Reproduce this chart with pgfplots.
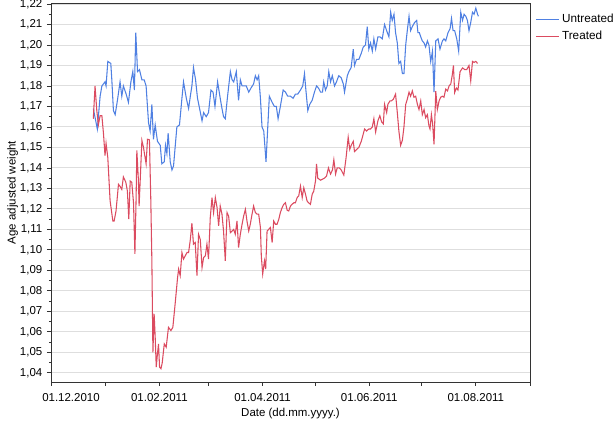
\documentclass[border=0pt]{standalone}
\usepackage{fontspec}
\setmainfont{Liberation Sans}
\usepackage{pgfplots}
\pgfplotsset{compat=1.18}
\definecolor{untr}{HTML}{4F80E2}
\definecolor{trt}{HTML}{DB4B60}
\definecolor{gridc}{HTML}{DEDEDE}
\begin{document}
\begin{tikzpicture}
\begin{axis}[
  name=ax,
  scale only axis, width=359.25pt, height=284.25pt,
  xmin=0, xmax=274, ymin=1.0355, ymax=1.2205,
  xtick={0,31,62,90,121,151,182,212,243,274},
  xticklabels={\hspace*{30pt}01.12.2010,,01.02.2011,,01.04.2011,,01.06.2011,,01.08.2011,},
  ytick={1.04,1.05,...,1.225},
  minor y tick num=1,
  tick align=outside, xtick pos=bottom, ytick pos=left,
  major tick length=3pt, minor tick length=1.6pt,
  tick style={black!80, line width=0.6pt},
  axis line style={black!80, line width=0.7pt},
  ymajorgrids, grid style={gridc, line width=0.7pt},
  yticklabel style={/pgf/number format/.cd, fixed, fixed zerofill, precision=2, use comma, assume math mode=true},
  xticklabel style={yshift=-2pt},
  ticklabel style={font=\fontsize{8.6}{10}\selectfont},
  label style={font=\fontsize{8.6}{10}\selectfont},
  xlabel={Date (dd.mm.yyyy.)},
  ylabel={Age adjusted weight},
  xlabel style={at={(axis description cs:0.5,0)}, anchor=center, yshift=-23.5pt},
  ylabel style={at={(axis description cs:-0.08,0.5)}, anchor=center, rotate=0},
  legend style={at={(axis description cs:1,1)}, anchor=north west, xshift=1pt, yshift=-4pt,
    draw=none, fill=none, font=\fontsize{8.8}{10}\selectfont, row sep=1pt},
  legend cell align=left,
]
\addplot[untr, line width=0.8pt] coordinates {
(24.2,1.169)(26.5,1.159)(28.1,1.175)(29.1,1.180)(30.9,1.182)(31.5,1.180)(32.5,1.192)(34.2,1.191)(34.8,1.183)(35.7,1.168)
(36.7,1.166)(38.0,1.173)(39.5,1.182)(40.5,1.175)(41.4,1.180)(43.0,1.176)(44.3,1.172)(45.7,1.182)(46.8,1.187)(47.7,1.178)
(48.5,1.206)(49.5,1.187)(50.6,1.188)(52.0,1.183)(53.3,1.183)(54.4,1.180)(55.8,1.162)(56.7,1.158)(57.7,1.171)(58.6,1.154)
(59.6,1.161)(60.9,1.153)(62.5,1.151)(63.4,1.142)(64.8,1.143)(65.5,1.151)(66.3,1.147)(67.0,1.157)(68.2,1.143)(69.2,1.139)
(70.1,1.141)(71.1,1.151)(72.0,1.160)(73.5,1.161)(74.9,1.174)(75.8,1.182)(77.4,1.174)(78.7,1.169)(79.7,1.175)(80.6,1.180)
(81.5,1.189)(82.7,1.183)(83.8,1.174)(85.0,1.169)(86.4,1.163)(87.3,1.167)(88.8,1.165)(90.1,1.167)(91.5,1.178)(92.7,1.177)
(93.8,1.170)(95.3,1.182)(96.8,1.174)(97.8,1.169)(98.7,1.165)(99.7,1.164)(101.0,1.175)(102.6,1.187)(103.6,1.183)(104.5,1.182)
(106.0,1.187)(107.3,1.173)(108.3,1.183)(109.3,1.180)(110.2,1.180)(111.7,1.180)(113.1,1.177)(114.4,1.179)(115.9,1.181)(116.9,1.185)
(117.9,1.183)(118.8,1.185)(119.8,1.174)(120.7,1.160)(121.7,1.158)(123.0,1.143)(124.0,1.160)(124.9,1.175)(126.5,1.172)(127.8,1.170)
(128.9,1.170)(129.9,1.164)(131.2,1.170)(132.8,1.178)(134.1,1.177)(135.4,1.175)(137.0,1.175)(138.5,1.174)(139.8,1.176)(141.1,1.176)
(142.7,1.178)(144.0,1.180)(145.0,1.186)(145.7,1.179)(146.9,1.168)(148.0,1.171)(149.4,1.173)(150.7,1.177)(151.9,1.180)(153.0,1.179)
(154.2,1.177)(155.3,1.177)(156.0,1.182)(157.0,1.178)(158.0,1.180)(158.9,1.187)(159.9,1.182)(160.9,1.185)(162.2,1.180)(163.3,1.182)
(164.6,1.185)(166.0,1.184)(167.2,1.181)(167.9,1.177)(169.5,1.185)(170.4,1.187)(171.7,1.189)(172.9,1.198)(173.6,1.190)(174.8,1.193)
(176.1,1.193)(177.5,1.196)(178.6,1.199)(179.9,1.200)(180.9,1.209)(181.8,1.198)(182.8,1.201)(183.8,1.197)(184.7,1.203)(185.7,1.198)
(187.0,1.204)(188.1,1.204)(189.5,1.203)(190.8,1.210)(192.4,1.206)(193.3,1.204)(194.3,1.216)(195.2,1.212)(196.2,1.215)(197.1,1.206)
(198.1,1.201)(199.0,1.191)(200.0,1.192)(201.0,1.186)(201.9,1.186)(202.9,1.200)(203.8,1.207)(204.8,1.214)(205.7,1.207)(206.7,1.209)
(208.0,1.211)(209.2,1.212)(209.9,1.206)(210.7,1.206)(211.5,1.204)(212.4,1.202)(213.4,1.201)(214.3,1.199)(215.3,1.202)(216.2,1.200)
(217.2,1.192)(218.2,1.197)(219.1,1.177)(220.1,1.202)(221.4,1.203)(222.5,1.198)(223.9,1.202)(224.8,1.203)(225.8,1.202)(227.1,1.206)
(228.3,1.208)(229.1,1.213)(230.0,1.207)(230.9,1.207)(232.1,1.203)(233.2,1.197)(234.4,1.216)(235.4,1.212)(236.3,1.215)(237.3,1.214)
(238.2,1.212)(239.1,1.207)(240.1,1.211)(241.1,1.216)(242.0,1.215)(243.0,1.218)(244.0,1.215)(244.5,1.214)
};
\addlegendentry{Untreated}
\addplot[trt, line width=0.8pt] coordinates {
(24.2,1.164)(25.2,1.180)(26.2,1.168)(27.1,1.161)(28.1,1.1655)(29.1,1.1655)(30.0,1.157)(30.9,1.146)(31.5,1.152)(32.5,1.145)
(33.8,1.124)(35.4,1.114)(36.1,1.114)(37.2,1.119)(38.6,1.132)(39.5,1.131)(40.5,1.1295)(41.4,1.1356)(42.8,1.133)(43.7,1.1287)
(44.5,1.115)(45.3,1.1336)(46.2,1.133)(47.2,1.123)(48.0,1.098)(48.7,1.126)(49.1,1.1485)(50.0,1.134)(50.4,1.1214)(52.0,1.1534)
(52.9,1.150)(54.4,1.142)(55.2,1.154)(56.3,1.1537)(57.1,1.124)(57.7,1.0947)(58.3,1.050)(59.0,1.0687)(59.6,1.0574)(60.2,1.0428)
(60.9,1.0493)(61.5,1.0541)(62.1,1.0428)(62.9,1.042)(63.6,1.0447)(64.8,1.0541)(65.9,1.0525)(67.2,1.0622)(68.6,1.0606)(69.7,1.0622)
(71.1,1.0744)(72.4,1.0865)(73.0,1.0906)(73.9,1.0874)(74.9,1.0987)(75.8,1.0955)(76.8,1.0971)(77.8,1.0987)(78.7,1.0987)(79.7,1.105)
(80.6,1.113)(81.5,1.1028)(82.5,1.1036)(83.5,1.0874)(84.4,1.1076)(85.4,1.105)(86.4,1.0914)(87.3,1.0963)(88.3,1.0971)(89.2,1.1028)
(90.1,1.0955)(91.1,1.1157)(92.1,1.1255)(93.0,1.1182)(94.0,1.1255)(95.0,1.1206)(95.9,1.1117)(96.8,1.1214)(97.8,1.1174)(98.7,1.1092)
(99.7,1.0946)(100.7,1.1182)(101.6,1.1165)(102.6,1.1084)(103.6,1.1092)(104.5,1.110)(105.4,1.1076)(106.4,1.1141)(107.3,1.1011)(108.3,1.1076)
(109.3,1.1125)(110.2,1.1165)(111.2,1.1198)(112.1,1.1141)(113.1,1.1092)(114.0,1.1125)(115.0,1.1174)(115.9,1.1214)(116.9,1.1182)(117.9,1.1174)
(118.8,1.1174)(119.8,1.1109)(120.3,1.0971)(121.1,1.0882)(122.1,1.0946)(122.8,1.0906)(123.6,1.1092)(124.5,1.110)(125.5,1.1109)(126.5,1.1036)
(127.4,1.1141)(128.4,1.1125)(129.3,1.1125)(130.3,1.1149)(131.2,1.1182)(132.2,1.1206)(133.1,1.1222)(134.1,1.123)(135.1,1.1193)(136.0,1.119)
(137.0,1.1214)(137.9,1.1222)(138.9,1.123)(139.8,1.123)(140.8,1.1255)(141.7,1.1263)(142.7,1.1311)(143.7,1.1255)(144.6,1.1303)(145.6,1.1271)
(146.5,1.1238)(147.4,1.123)(148.4,1.1222)(149.4,1.1271)(150.3,1.1287)(151.3,1.1336)(151.9,1.142)(152.6,1.135)(154.2,1.134)(155.3,1.1345)
(156.4,1.135)(157.6,1.136)(158.7,1.140)(159.9,1.137)(161.0,1.139)(161.8,1.144)(162.8,1.137)(163.7,1.140)(164.9,1.140)(166.0,1.139)
(167.5,1.1365)(168.8,1.145)(170.0,1.155)(170.9,1.149)(171.7,1.151)(172.9,1.153)(173.6,1.148)(174.8,1.149)(176.1,1.150)(177.5,1.153)
(178.6,1.1565)(179.4,1.159)(180.5,1.158)(181.8,1.159)(182.8,1.159)(183.8,1.160)(184.7,1.164)(185.7,1.1575)(187.0,1.163)(188.1,1.1655)
(189.1,1.1625)(190.1,1.1615)(190.8,1.171)(192.0,1.167)(192.7,1.171)(193.9,1.1727)(194.7,1.1727)(195.8,1.1735)(197.1,1.176)(198.1,1.167)
(199.0,1.158)(200.0,1.151)(201.0,1.1535)(201.9,1.160)(202.9,1.171)(203.8,1.1735)(204.8,1.177)(205.7,1.175)(206.7,1.1776)(207.6,1.1745)
(208.6,1.175)(209.6,1.171)(210.5,1.1685)(211.5,1.1727)(212.4,1.166)(213.4,1.1685)(214.3,1.1645)(215.3,1.166)(216.2,1.1605)(216.8,1.159)
(217.6,1.166)(218.3,1.1615)(219.1,1.1515)(220.1,1.1775)(221.0,1.1685)(222.0,1.1727)(222.9,1.1745)(223.9,1.175)(224.8,1.1745)(225.8,1.1785)
(226.8,1.1776)(227.7,1.180)(228.7,1.181)(229.6,1.1857)(230.2,1.190)(230.9,1.1768)(231.9,1.179)(232.8,1.178)(234.0,1.187)(235.4,1.1888)
(236.7,1.188)(237.8,1.188)(239.1,1.190)(240.1,1.1825)(241.1,1.192)(242.0,1.1915)(243.0,1.192)(244.0,1.191)
};
\addlegendentry{Treated}
\end{axis}
\pgfresetboundingbox
\path ([shift={(-38.25pt,-29.25pt)}]ax.south west) rectangle ([shift={(63pt,2.25pt)}]ax.north east);
\end{tikzpicture}
\end{document}
